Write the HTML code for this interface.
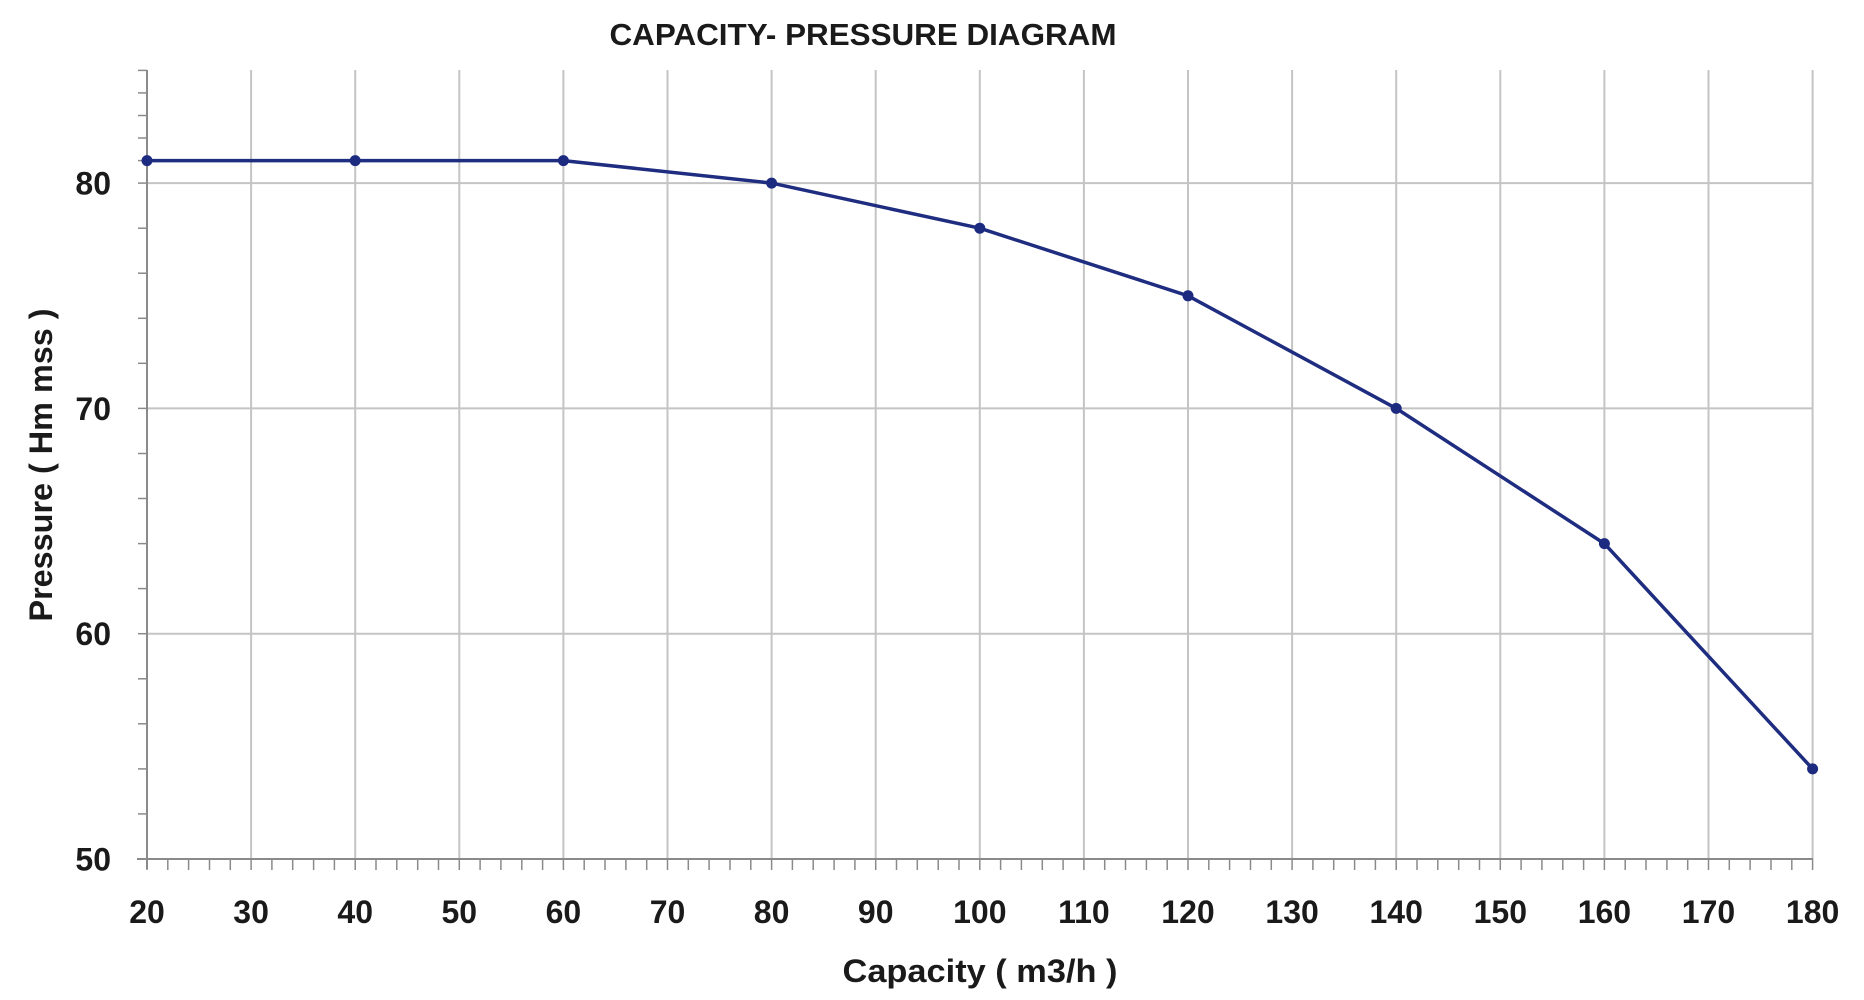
<!DOCTYPE html>
<html>
<head>
<meta charset="utf-8">
<style>
html,body{margin:0;padding:0;background:#fff;}
svg{display:block;}
text{font-family:"Liberation Sans",sans-serif;font-weight:bold;fill:#1a1a1a;}
</style>
</head>
<body>
<svg width="1864" height="1000" viewBox="0 0 1864 1000" xmlns="http://www.w3.org/2000/svg">
<rect x="0" y="0" width="1864" height="1000" fill="#fff"/>
<!-- vertical gridlines every 10 from 30 to 180 -->
<g stroke="#c4c4c4" stroke-width="2">
<line x1="251.1" y1="70" x2="251.1" y2="859"/>
<line x1="355.2" y1="70" x2="355.2" y2="859"/>
<line x1="459.3" y1="70" x2="459.3" y2="859"/>
<line x1="563.4" y1="70" x2="563.4" y2="859"/>
<line x1="667.5" y1="70" x2="667.5" y2="859"/>
<line x1="771.6" y1="70" x2="771.6" y2="859"/>
<line x1="875.7" y1="70" x2="875.7" y2="859"/>
<line x1="979.8" y1="70" x2="979.8" y2="859"/>
<line x1="1083.9" y1="70" x2="1083.9" y2="859"/>
<line x1="1188" y1="70" x2="1188" y2="859"/>
<line x1="1292.1" y1="70" x2="1292.1" y2="859"/>
<line x1="1396.2" y1="70" x2="1396.2" y2="859"/>
<line x1="1500.3" y1="70" x2="1500.3" y2="859"/>
<line x1="1604.4" y1="70" x2="1604.4" y2="859"/>
<line x1="1708.5" y1="70" x2="1708.5" y2="859"/>
<line x1="1812.6" y1="70" x2="1812.6" y2="859"/>
<!-- horizontal gridlines -->
<line x1="147" y1="183.1" x2="1812.6" y2="183.1"/>
<line x1="147" y1="408.4" x2="1812.6" y2="408.4"/>
<line x1="147" y1="633.7" x2="1812.6" y2="633.7"/>
</g>
<!-- axes -->
<g stroke="#8a8a8a" stroke-width="2">
<line x1="147" y1="70" x2="147" y2="869"/>
<line x1="137" y1="859" x2="1813" y2="859"/>
</g>
<!-- y minor ticks every 2 -->
<g stroke="#8a8a8a" stroke-width="1.5" id="yt">
<line x1="138" y1="70.4" x2="147" y2="70.4"/>
<line x1="138" y1="115.5" x2="147" y2="115.5"/>
<line x1="138" y1="160.6" x2="147" y2="160.6"/>
<line x1="138" y1="92.9" x2="147" y2="92.9"/>
<line x1="138" y1="138" x2="147" y2="138"/>
<line x1="138" y1="183.1" x2="147" y2="183.1"/>
<line x1="138" y1="228.2" x2="147" y2="228.2"/>
<line x1="138" y1="273.2" x2="147" y2="273.2"/>
<line x1="138" y1="318.3" x2="147" y2="318.3"/>
<line x1="138" y1="363.3" x2="147" y2="363.3"/>
<line x1="138" y1="408.4" x2="147" y2="408.4"/>
<line x1="138" y1="453.5" x2="147" y2="453.5"/>
<line x1="138" y1="498.5" x2="147" y2="498.5"/>
<line x1="138" y1="543.6" x2="147" y2="543.6"/>
<line x1="138" y1="588.6" x2="147" y2="588.6"/>
<line x1="138" y1="633.7" x2="147" y2="633.7"/>
<line x1="138" y1="678.8" x2="147" y2="678.8"/>
<line x1="138" y1="723.8" x2="147" y2="723.8"/>
<line x1="138" y1="768.9" x2="147" y2="768.9"/>
<line x1="138" y1="813.9" x2="147" y2="813.9"/>
</g>
<!-- x minor ticks every 2 -->
<g stroke="#8a8a8a" stroke-width="1.5">
<path d="M147 859v11M167.8 859v11M188.6 859v11M209.5 859v11M230.3 859v11M251.1 859v11M271.9 859v11M292.7 859v11M313.6 859v11M334.4 859v11M355.2 859v11M376 859v11M396.8 859v11M417.7 859v11M438.5 859v11M459.3 859v11M480.1 859v11M500.9 859v11M521.8 859v11M542.6 859v11M563.4 859v11M584.2 859v11M605 859v11M625.9 859v11M646.7 859v11M667.5 859v11M688.3 859v11M709.1 859v11M730 859v11M750.8 859v11M771.6 859v11M792.4 859v11M813.2 859v11M834.1 859v11M854.9 859v11M875.7 859v11M896.5 859v11M917.3 859v11M938.2 859v11M959 859v11M979.8 859v11M1000.6 859v11M1021.4 859v11M1042.3 859v11M1063.1 859v11M1083.9 859v11M1104.7 859v11M1125.5 859v11M1146.4 859v11M1167.2 859v11M1188 859v11M1208.8 859v11M1229.6 859v11M1250.5 859v11M1271.3 859v11M1292.1 859v11M1312.9 859v11M1333.7 859v11M1354.6 859v11M1375.4 859v11M1396.2 859v11M1417 859v11M1437.8 859v11M1458.7 859v11M1479.5 859v11M1500.3 859v11M1521.1 859v11M1541.9 859v11M1562.8 859v11M1583.6 859v11M1604.4 859v11M1625.2 859v11M1646 859v11M1666.9 859v11M1687.7 859v11M1708.5 859v11M1729.3 859v11M1750.1 859v11M1771 859v11M1791.8 859v11M1812.6 859v11"/>
</g>
<!-- data line -->
<polyline fill="none" stroke="#1f2d80" stroke-width="3.5" stroke-linejoin="round"
points="147,160.6 355.2,160.6 563.4,160.6 771.6,183.1 979.8,228.2 1188,295.8 1396.2,408.4 1604.4,543.6 1812.6,768.9"/>
<g fill="#1c2a80">
<circle cx="147" cy="160.6" r="5.5"/>
<circle cx="355.2" cy="160.6" r="5.5"/>
<circle cx="563.4" cy="160.6" r="5.5"/>
<circle cx="771.6" cy="183.1" r="5.5"/>
<circle cx="979.8" cy="228.2" r="5.5"/>
<circle cx="1188" cy="295.8" r="5.5"/>
<circle cx="1396.2" cy="408.4" r="5.5"/>
<circle cx="1604.4" cy="543.6" r="5.5"/>
<circle cx="1812.6" cy="768.9" r="5.5"/>
</g>
<!-- title -->
<text x="863" y="45" font-size="31" text-anchor="middle" textLength="507" lengthAdjust="spacingAndGlyphs">CAPACITY- PRESSURE DIAGRAM</text>
<!-- y tick labels -->
<g font-size="32" text-anchor="end">
<text x="111" y="194.6">80</text>
<text x="111" y="419.9">70</text>
<text x="111" y="645.2">60</text>
<text x="111" y="870.5">50</text>
</g>
<!-- x tick labels -->
<g font-size="32" text-anchor="middle">
<text x="147" y="923">20</text>
<text x="251.1" y="923">30</text>
<text x="355.2" y="923">40</text>
<text x="459.3" y="923">50</text>
<text x="563.4" y="923">60</text>
<text x="667.5" y="923">70</text>
<text x="771.6" y="923">80</text>
<text x="875.7" y="923">90</text>
<text x="979.8" y="923">100</text>
<text x="1083.9" y="923">110</text>
<text x="1188" y="923">120</text>
<text x="1292.1" y="923">130</text>
<text x="1396.2" y="923">140</text>
<text x="1500.3" y="923">150</text>
<text x="1604.4" y="923">160</text>
<text x="1708.5" y="923">170</text>
<text x="1812.6" y="923">180</text>
</g>
<!-- axis titles -->
<text x="980" y="982" font-size="32" text-anchor="middle" textLength="275" lengthAdjust="spacingAndGlyphs">Capacity ( m3/h )</text>
<text transform="translate(52,465) rotate(-90)" x="0" y="0" font-size="32" text-anchor="middle" textLength="313" lengthAdjust="spacingAndGlyphs">Pressure ( Hm mss )</text>
</svg>
</body>
</html>
